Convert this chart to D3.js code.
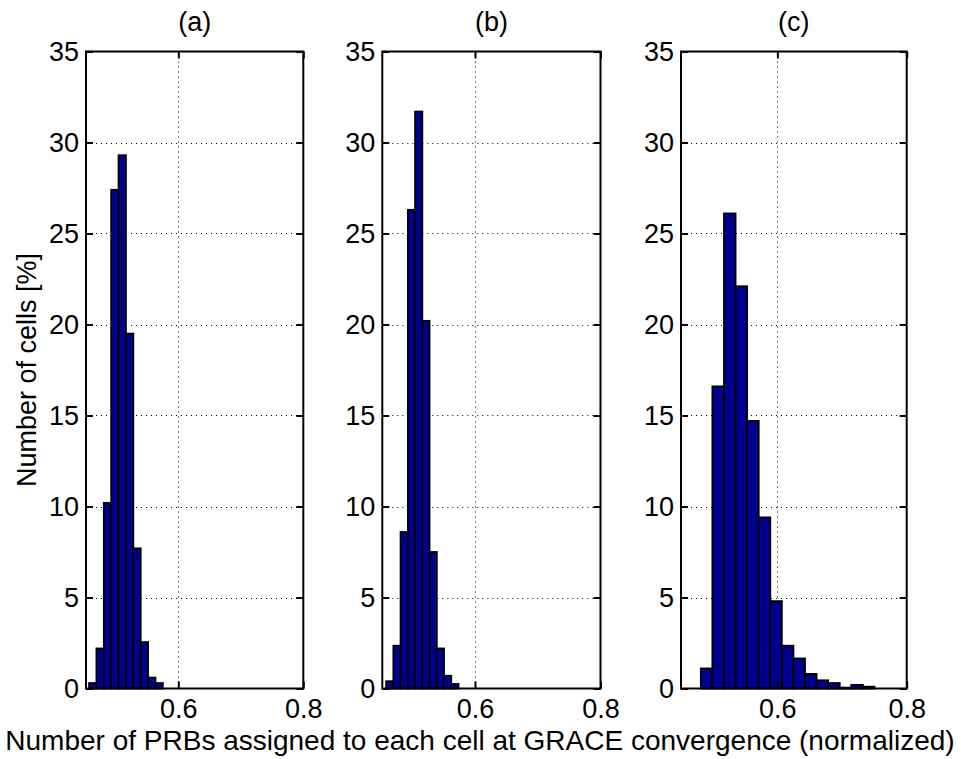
<!DOCTYPE html>
<html>
<head>
<meta charset="utf-8">
<script src="https://cdn.jsdelivr.net/npm/d3@7/dist/d3.min.js"></script>
<style>
  html, body { margin: 0; padding: 0; background: #ffffff; }
  svg { display: block; }
  text { font-family: "Liberation Sans", Arial, Helvetica, sans-serif; fill: #000; }
</style>
</head>
<body>
<svg id="chart" width="961" height="759"></svg>
<script>
// ---------------- data ----------------
const panelTitles = ["(a)", "(b)", "(c)"];
const yTicks = [0, 5, 10, 15, 20, 25, 30, 35];
const xTicks = [0.6, 0.8];

// panel (a): bin centres and percentage of cells
const binCentersA = [0.4631, 0.4749, 0.4867, 0.4985, 0.5103, 0.5221, 0.5339, 0.5457, 0.5575, 0.5693];
const valuesA     = [0.3, 2.2, 10.2, 27.4, 29.3, 19.5, 7.7, 2.55, 0.6, 0.3];
const binWidthA   = 0.0118;

// panel (b)
const binCentersB = [0.4642, 0.4757, 0.4872, 0.4988, 0.5103, 0.5218, 0.5334, 0.5449, 0.5564, 0.5680];
const valuesB     = [0.4, 2.35, 8.6, 26.3, 31.7, 20.2, 7.5, 2.2, 0.7, 0.25];
const binWidthB   = 0.01153;

// panel (c)
const binCentersC = [0.4906, 0.5085, 0.5264, 0.5443, 0.5622, 0.5801, 0.5980, 0.6159,
                     0.6338, 0.6517, 0.6696, 0.6875, 0.7054, 0.7233, 0.7412];
const valuesC     = [1.1, 16.6, 26.1, 22.1, 14.7, 9.4, 4.8, 2.35,
                     1.65, 0.8, 0.45, 0.3, 0.05, 0.2, 0.1];
const binWidthC   = 0.0179;

const xMins = [0.4523, 0.4523, 0.451];
const xMax = 0.8;
const yMax = 35;

const xLabel = "Number of PRBs assigned to each cell at GRACE convergence (normalized)";
const yLabel = "Number of cells [%]";

// ---------------- layout ----------------
const panelsLayout = [
  { left: 86,    right: 303.3 },
  { left: 382.3, right: 600.5 },
  { left: 681,   right: 906.7 }
];
const plotTop = 51.5, plotBottom = 688.5;
const fontSize = 27;
const barFill = "#00008f";

const svg = d3.select("#chart");

const panelData = [
  { centers: binCentersA, values: valuesA, width: binWidthA },
  { centers: binCentersB, values: valuesB, width: binWidthB },
  { centers: binCentersC, values: valuesC, width: binWidthC }
];

panelData.forEach((pd, i) => {
  const L = panelsLayout[i];
  const x = d3.scaleLinear().domain([xMins[i], xMax]).range([L.left, L.right]);
  const y = d3.scaleLinear().domain([0, yMax]).range([plotBottom, plotTop]);
  const g = svg.append("g");

  // grid (dotted), behind bars
  const grid = g.append("g").attr("stroke", "#000").attr("stroke-width", 1)
    .attr("stroke-dasharray", "1,4");
  yTicks.filter(t => t > 0 && t < yMax).forEach(t => {
    grid.append("line")
      .attr("x1", L.left).attr("x2", L.right)
      .attr("y1", Math.round(y(t)) + 0.5).attr("y2", Math.round(y(t)) + 0.5);
  });
  xTicks.filter(t => t < xMax).forEach(t => {
    grid.append("line")
      .attr("x1", Math.round(x(t)) + 0.5).attr("x2", Math.round(x(t)) + 0.5)
      .attr("y1", plotTop).attr("y2", plotBottom);
  });

  // bars
  const bars = pd.centers.map((c, k) => ({ c: c, v: pd.values[k] }));
  g.append("g").selectAll("rect").data(bars).join("rect")
    .attr("x", d => x(d.c - pd.width / 2))
    .attr("width", d => x(d.c + pd.width / 2) - x(d.c - pd.width / 2))
    .attr("y", d => y(d.v))
    .attr("height", d => y(0) - y(d.v))
    .attr("fill", barFill)
    .attr("stroke", "#000")
    .attr("stroke-width", 1.8);

  // axes (ticks pointing inward)
  const styleAxis = sel => {
    sel.select(".domain").remove();
    sel.selectAll(".tick line").attr("stroke", "#000").attr("stroke-width", 2);
    sel.selectAll("text").style("font-size", fontSize + "px")
      .style("font-family", '"Liberation Sans", Arial, sans-serif').attr("fill", "#000");
  };
  g.append("g").attr("transform", `translate(${L.left},0)`)
    .call(d3.axisLeft(y).tickValues(yTicks).tickSize(-7).tickPadding(7).tickFormat(d3.format("d")))
    .call(styleAxis);
  g.append("g").attr("transform", `translate(${L.right},0)`)
    .call(d3.axisRight(y).tickValues(yTicks).tickSize(-7).tickFormat(""))
    .call(styleAxis);
  g.append("g").attr("transform", `translate(0,${plotBottom})`)
    .call(d3.axisBottom(x).tickValues(xTicks).tickSize(-7).tickPadding(10).tickFormat(d3.format(".1f")))
    .call(styleAxis);
  g.append("g").attr("transform", `translate(0,${plotTop})`)
    .call(d3.axisTop(x).tickValues(xTicks).tickSize(-7).tickFormat(""))
    .call(styleAxis);

  // box
  g.append("rect")
    .attr("x", L.left).attr("y", plotTop)
    .attr("width", L.right - L.left).attr("height", plotBottom - plotTop)
    .attr("fill", "none").attr("stroke", "#000").attr("stroke-width", 2);

  // title
  g.append("text")
    .attr("x", (L.left + L.right) / 2).attr("y", 31)
    .attr("text-anchor", "middle")
    .style("font-size", fontSize + "px")
    .text(panelTitles[i]);
});

// axis labels
svg.append("text")
  .attr("x", 480).attr("y", 750)
  .attr("text-anchor", "middle")
  .style("font-size", "28px")
  .text(xLabel);

svg.append("text")
  .attr("transform", `translate(36,${(plotTop + plotBottom) / 2}) rotate(-90)`)
  .attr("text-anchor", "middle")
  .style("font-size", fontSize + "px")
  .text(yLabel);
</script>
</body>
</html>
